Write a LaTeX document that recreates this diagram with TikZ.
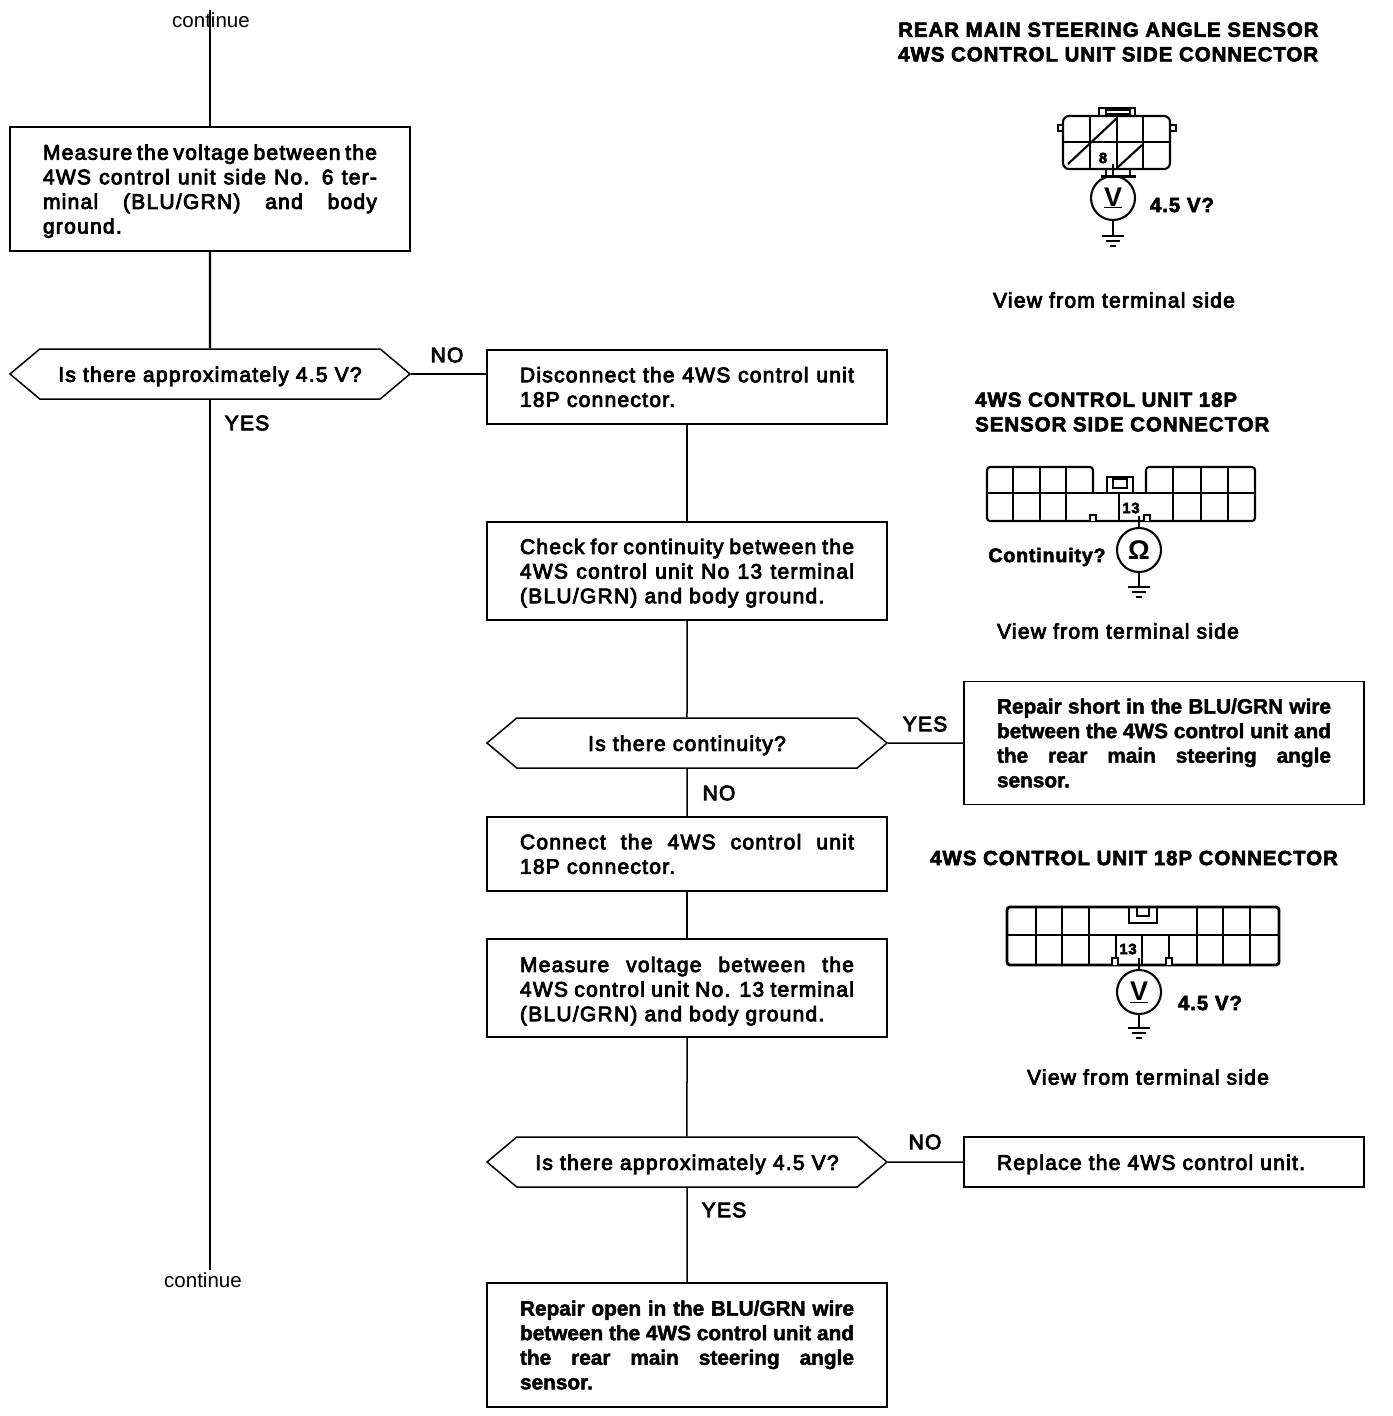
\documentclass[tikz,border=0pt]{standalone}
\usepackage{fontspec}
\usetikzlibrary{shapes.symbols}
\setmainfont{Liberation Sans}
\newfontfamily\medfont[FakeBold=4,LetterSpace=6]{Liberation Sans}
\newfontfamily\headfont[BoldFeatures={LetterSpace=4.5,FakeBold=3}]{Liberation Sans}
\newfontfamily\endfont[BoldFeatures={FakeBold=2}]{Liberation Sans}
\newcommand{\bodytxt}{\medfont\fontsize{21}{24.6}\selectfont}
\newcommand{\boldtxt}{\endfont\bfseries\fontsize{20.8}{24.6}\selectfont}
\newcommand{\headtxt}{\headfont\bfseries\fontsize{20.5}{24.6}\selectfont}
\tikzset{
    wire/.style={line width=1.5pt},
    conwire/.style={line width=2.1pt},
    stepbox/.style={draw,line width=1.5pt,minimum width=400,inner xsep=0pt,inner ysep=0pt,
        text width=334,align=justify,font=\bodytxt},
    endbox/.style={stepbox,font=\boldtxt},
    askbox/.style={draw,line width=1.5pt,shape=signal,signal to=east and west,signal pointer angle=80,
        minimum width=400,minimum height=50,inner xsep=0pt,inner ysep=0pt,text height=20,align=center,font=\bodytxt},
    lbl/.style={font=\bodytxt,inner sep=0pt},
    pin/.style={inner sep=0pt,font=\headfont\bfseries\fontsize{15}{15}\selectfont},
    head/.style={font=\headtxt,align=left,anchor=west,inner sep=0pt},
    meter/.style={draw,circle,line width=2.1pt,minimum size=44,inner sep=0pt,font=\bfseries\fontsize{27}{27}\selectfont},
    gnd/.pic={
        \draw[line width=2.2pt] (-11,0) -- (11,0);
        \draw[line width=2.2pt] (-7,5) -- (7,5);
        \draw[line width=2.2pt] (-3,10) -- (3,10);
    }
}
\begin{document}
\begin{tikzpicture}[x=1pt,y=-1pt]
    \useasboundingbox (0,0) rectangle (1392,1416);
    % left column
    \node[inner sep=0pt,font=\fontsize{20.5}{22}\selectfont] (top) at (211,20) {continue};
    \node[stepbox,minimum height=124,text height=19.5] (meas) at (210,189) {Measure the voltage between the\linebreak 4WS control unit side No. 6 ter-\linebreak minal (BLU/GRN) and body\linebreak ground.};
    \node[askbox] (ask1) at (210,374) {Is there approximately 4.5 V?};
    \node[lbl] (yes1) at (247,423) {YES};
    \node[lbl] (no1) at (447,355) {NO};
    \node[inner sep=0pt,font=\fontsize{20.5}{22}\selectfont] (bot) at (203,1280) {continue};
    \coordinate (topend) at (210,10);
    \coordinate (botend) at (210,1270);
    % middle column
    \node[stepbox,minimum height=74] (disc) at (687,387) {Disconnect the 4WS control unit\linebreak 18P connector.};
    \node[stepbox,minimum height=98,text height=19.5] (cont) at (687,571) {Check for continuity between the\linebreak 4WS control unit No 13 terminal\linebreak (BLU/GRN) and body ground.};
    \node[askbox] (ask2) at (687,743) {Is there continuity?};
    \node[lbl] (no2) at (719,793) {NO};
    \node[stepbox,minimum height=74] (conn) at (687,854) {Connect the 4WS control unit\linebreak 18P connector.};
    \node[stepbox,minimum height=98,text height=21.5] (volt) at (687,988) {Measure voltage between the\linebreak 4WS control unit No. 13 terminal\linebreak (BLU/GRN) and body ground.};
    \node[askbox] (ask3) at (687,1162) {Is there approximately 4.5 V?};
    \node[lbl] (yes3) at (724,1210) {YES};
    \node[endbox,minimum height=124] (open) at (687,1345) {Repair open in the BLU/GRN wire\linebreak between the 4WS control unit and\linebreak the rear main steering angle\linebreak sensor.};
    % right column
    \node[endbox,minimum height=123] (short) at (1164,743) {Repair short in the BLU/GRN wire\linebreak between the 4WS control unit and\linebreak the rear main steering angle\linebreak sensor.};
    \node[lbl] (yes2) at (925,724) {YES};
    \node[stepbox,minimum height=50,text height=20] (repl) at (1164,1162) {Replace the 4WS control unit.};
    \node[lbl] (no3) at (925,1142) {NO};
    \draw[wire] (topend) -- (meas);
    \draw[conwire] (meas) -- (ask1);
    \draw[conwire] (ask1) -- (botend);
    \draw[wire] (ask1.east) -- (ask1.east -| disc.west);
    \draw[wire] (disc) -- (cont);
    \draw[wire] (cont) -- (ask2);
    \draw[wire] (ask2) -- (conn);
    \draw[wire] (conn) -- (volt);
    \draw[wire] (volt) -- (ask3);
    \draw[wire] (ask3) -- (open);
    \draw[wire] (ask2) -- (short);
    \draw[wire] (ask3) -- (repl);
    % first connector
    \node[head] (headA) at (898,42) {REAR MAIN STEERING ANGLE SENSOR\\4WS CONTROL UNIT SIDE CONNECTOR};
    \draw[conwire,rounded corners=6] (1063,116) rectangle (1170,169);
    \draw[conwire] (1063,142) -- (1170,142);
    \foreach \x in {1090,1117,1143} \draw[conwire] (\x,116) -- (\x,169);
    \draw[conwire] (1068,164) -- (1117,118);
    \draw[conwire] (1117,168) -- (1142,145);
    \draw[conwire] (1099,116) -- (1099,108) -- (1135,108) -- (1135,116);
    \draw[conwire] (1106,110) rectangle (1130,114);
    \draw[conwire] (1063,125) -- (1058,125) -- (1058,131) -- (1063,131);
    \draw[conwire] (1170,125) -- (1176,125) -- (1176,131) -- (1170,131);
    \draw[line width=3pt] (1101,176) -- (1136,176);
    \foreach \x in {1106,1130} \draw[conwire] (\x,169) -- (\x,176);
    \node[pin] (pinA) at (1103,158) {8};
    \coordinate (probeA) at (1113,164);
    \node[meter] (meterA) at (1113,198) {\underline{V}};
    \coordinate (gndA) at (1113,236);
    \draw[wire] (probeA) -- (meterA);
    \draw[conwire] (meterA) -- (gndA);
    \pic at (gndA) {gnd};
    \node[head,anchor=center] (valA) at (1182,205) {4.5 V?};
    \node[lbl] (viewA) at (1114,300) {View from terminal side};
    % second connector
    \node[head] (headB) at (975,412) {4WS CONTROL UNIT 18P\\SENSOR SIDE CONNECTOR};
    \draw[conwire,rounded corners=3] (1093,493) -- (1093,467) -- (987,467) -- (987,521) -- (1255,521) -- (1255,467) -- (1146,467) -- (1146,493);
    \draw[conwire] (987,493) -- (1255,493);
    \foreach \x in {1013,1040,1066,1173,1201,1228} \draw[conwire] (\x,467) -- (\x,521);
    \draw[conwire] (1119,493) -- (1119,521);
    \draw[conwire] (1107,493) -- (1107,477) -- (1133,477) -- (1133,493);
    \draw[wire] (1113,479) rectangle (1127,488);
    \foreach \x in {1093,1147} \draw[wire,fill=white] (\x-3,521) -- (\x-3,515) -- (\x+3,515) -- (\x+3,521);
    \node[pin] (pinB) at (1131,508) {13};
    \coordinate (probeB) at (1139,516);
    \node[meter] (meterB) at (1139,550) {Ω};
    \coordinate (gndB) at (1139,587);
    \draw[wire] (probeB) -- (meterB);
    \draw[conwire] (meterB) -- (gndB);
    \pic at (gndB) {gnd};
    \node[inner sep=0pt,font=\headfont\bfseries\fontsize{19.5}{20}\selectfont] (valB) at (1047,557) {Continuity?};
    \node[lbl] (viewB) at (1118,631) {View from terminal side};
    % third connector
    \node[head] (headC) at (930,858) {4WS CONTROL UNIT 18P CONNECTOR};
    \draw[line width=2.8pt,rounded corners=3] (1007,907) -- (1279,907) -- (1279,965) -- (1007,965) -- cycle;
    \draw[conwire] (1007,935) -- (1279,935);
    \foreach \x in {1036,1062,1089,1197,1223,1250} \draw[conwire] (\x,907) -- (\x,965);
    \foreach \x in {1116,1142,1169} \draw[conwire] (\x,935) -- (\x,965);
    \draw[conwire] (1129,907) -- (1129,923) -- (1157,923) -- (1157,907);
    \draw[conwire] (1137,907) -- (1137,916) -- (1149,916) -- (1149,907);
    \foreach \x in {1115,1169} \draw[wire,fill=white] (\x-3,965) -- (\x-3,958) -- (\x+3,958) -- (\x+3,965);
    \node[pin] (pinC) at (1128,949) {13};
    \coordinate (probeC) at (1139,958);
    \node[meter] (meterC) at (1139,992) {\underline{V}};
    \coordinate (gndC) at (1139,1028);
    \draw[wire] (probeC) -- (meterC);
    \draw[conwire] (meterC) -- (gndC);
    \pic at (gndC) {gnd};
    \node[head,anchor=center] (valC) at (1210,1003) {4.5 V?};
    \node[lbl] (viewC) at (1148,1077) {View from terminal side};
\end{tikzpicture}
\end{document}
